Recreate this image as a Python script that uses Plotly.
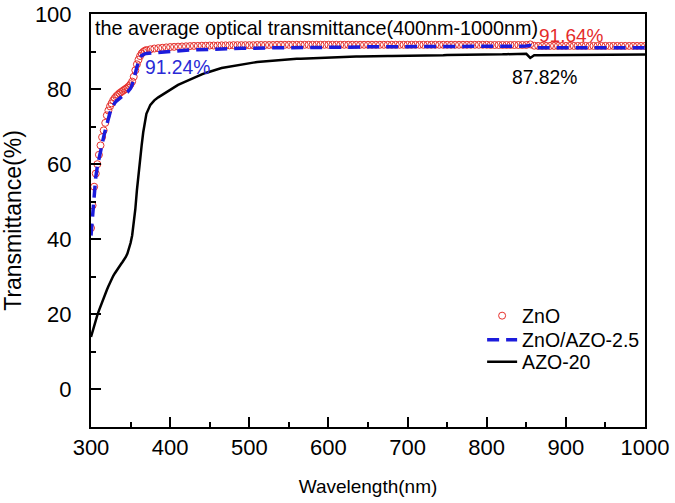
import plotly.graph_objects as go

# Sampling grid (nm)
wavelength = [
    300, 302, 304, 306, 308, 310, 312, 314, 316, 318,
    320, 322, 324, 326, 328, 330, 332, 334, 336, 338,
    340, 342, 344, 346, 348, 350, 352, 354, 356, 358,
    360, 362, 364, 366, 368, 370,
    375, 380, 385, 390, 395, 400, 405, 410, 415, 420,
    425, 430, 435, 440, 445, 450, 455, 460, 465, 470,
    475, 480, 485, 490, 495, 500, 505, 510, 515, 520,
    525, 530, 535, 540, 545, 550, 555, 560, 565, 570,
    575, 580, 585, 590, 595, 600, 605, 610, 615, 620,
    625, 630, 635, 640, 645, 650, 655, 660, 665, 670,
    675, 680, 685, 690, 695, 700, 705, 710, 715, 720,
    725, 730, 735, 740, 745, 750, 755, 760, 765, 770,
    775, 780, 785, 790, 795, 800, 805, 810, 815, 820,
    825, 830, 835, 840, 845, 850, 855, 860, 865, 870,
    875, 880, 885, 890, 895, 900, 905, 910, 915, 920,
    925, 930, 935, 940, 945, 950, 955, 960, 965, 970,
    975, 980, 985, 990, 995, 1000,
]

zno = [
    43.0, 49.0, 54.0, 57.5, 60.0, 62.5, 65.0, 67.2, 69.0, 71.0,
    73.0, 74.3, 75.4, 76.2, 77.0, 77.6, 78.1, 78.5, 78.9, 79.2,
    79.5, 79.8, 80.1, 80.4, 80.8, 81.3, 82.0, 83.3, 85.0, 86.6,
    87.8, 88.8, 89.5, 89.9, 90.2, 90.4,
    90.6, 90.8, 90.9, 91.0, 91.1, 91.2, 91.25, 91.3, 91.35, 91.4,
    91.45, 91.5, 91.5, 91.55, 91.55, 91.6, 91.6, 91.6, 91.65, 91.65,
    91.65, 91.7, 91.7, 91.7, 91.7, 91.7, 91.7, 91.75, 91.75, 91.75,
    91.75, 91.75, 91.8, 91.8, 91.8, 91.8, 91.8, 91.8, 91.8, 91.8,
    91.8, 91.8, 91.8, 91.8, 91.8, 91.8, 91.8, 91.8, 91.8, 91.8,
    91.8, 91.8, 91.8, 91.8, 91.8, 91.8, 91.8, 91.8, 91.8, 91.8,
    91.8, 91.8, 91.8, 91.8, 91.8, 91.8, 91.8, 91.8, 91.8, 91.8,
    91.8, 91.8, 91.8, 91.8, 91.8, 91.8, 91.8, 91.8, 91.8, 91.8,
    91.8, 91.8, 91.8, 91.8, 91.8, 91.8, 91.75, 91.75, 91.75, 91.75,
    91.75, 91.75, 91.75, 91.75, 91.75, 91.75, 91.9, 91.55, 91.5, 91.5,
    91.5, 91.5, 91.5, 91.5, 91.5, 91.5, 91.5, 91.5, 91.5, 91.5,
    91.5, 91.5, 91.5, 91.5, 91.5, 91.5, 91.5, 91.5, 91.5, 91.5,
    91.5, 91.5, 91.5, 91.5, 91.5, 91.5,
]

zno_azo = [
    41.0, 47.0, 52.5, 56.5, 59.3, 61.5, 63.5, 65.5, 67.3, 69.0,
    70.7, 72.3, 73.7, 74.8, 75.7, 76.3, 76.8, 77.2, 77.6, 78.0,
    78.3, 78.6, 78.9, 79.2, 79.6, 80.2, 81.2, 82.5, 84.2, 85.9,
    87.3, 88.3, 88.9, 89.2, 89.4, 89.5,
    89.6, 89.7, 89.8, 89.9, 89.95, 90.0, 90.1, 90.2, 90.3, 90.35,
    90.4, 90.45, 90.5, 90.55, 90.6, 90.65, 90.65, 90.7, 90.7, 90.75,
    90.75, 90.8, 90.8, 90.85, 90.85, 90.9, 90.9, 90.9, 90.95, 90.95,
    90.95, 91.0, 91.0, 91.0, 91.05, 91.05, 91.05, 91.05, 91.1, 91.1,
    91.1, 91.1, 91.1, 91.1, 91.15, 91.15, 91.15, 91.15, 91.15, 91.2,
    91.2, 91.2, 91.2, 91.2, 91.2, 91.25, 91.25, 91.25, 91.25, 91.25,
    91.3, 91.3, 91.3, 91.3, 91.3, 91.3, 91.3, 91.3, 91.3, 91.3,
    91.3, 91.3, 91.35, 91.35, 91.35, 91.35, 91.35, 91.35, 91.4, 91.4,
    91.4, 91.4, 91.4, 91.4, 91.4, 91.4, 91.4, 91.4, 91.4, 91.4,
    91.4, 91.4, 91.45, 91.45, 91.45, 91.45, 91.6, 91.05, 91.0, 91.0,
    91.0, 91.0, 91.0, 91.0, 91.0, 91.0, 91.0, 91.0, 91.0, 91.0,
    91.0, 91.0, 91.0, 91.0, 91.0, 91.0, 91.0, 91.0, 91.0, 91.0,
    91.0, 91.0, 91.0, 91.0, 91.0, 91.0,
]

azo20 = [
    14.0, 15.6, 17.1, 18.5, 19.8, 21.0, 22.2, 23.3, 24.4, 25.5,
    26.5, 27.5, 28.5, 29.4, 30.2, 30.9, 31.6, 32.2, 32.8, 33.4,
    34.0, 34.6, 35.3, 36.2, 37.4, 39.0, 41.0, 44.0, 48.0, 53.0,
    57.5, 61.5, 65.0, 68.5, 71.2, 73.4,
    75.8, 77.0, 77.8, 78.5, 79.2, 79.9, 80.5, 81.1, 81.6, 82.1,
    82.6, 83.1, 83.5, 83.9, 84.3, 84.7, 85.0, 85.3, 85.6, 85.8,
    86.0, 86.2, 86.4, 86.6, 86.8, 86.9, 87.05, 87.2, 87.3, 87.4,
    87.5, 87.6, 87.7, 87.8, 87.85, 87.9, 88.0, 88.05, 88.1, 88.15,
    88.2, 88.25, 88.3, 88.35, 88.4, 88.45, 88.5, 88.5, 88.55, 88.55,
    88.6, 88.6, 88.65, 88.65, 88.7, 88.7, 88.7, 88.75, 88.75, 88.75,
    88.8, 88.8, 88.8, 88.85, 88.85, 88.85, 88.9, 88.9, 88.9, 88.95,
    88.95, 88.95, 89.0, 89.0, 89.0, 89.05, 89.05, 89.05, 89.1, 89.1,
    89.1, 89.15, 89.15, 89.15, 89.2, 89.2, 89.2, 89.25, 89.25, 89.25,
    89.3, 89.3, 89.3, 89.35, 89.35, 89.4, 88.3, 89.0, 89.0, 89.0,
    89.0, 89.0, 89.0, 89.0, 89.0, 89.05, 89.05, 89.05, 89.05, 89.05,
    89.05, 89.1, 89.1, 89.1, 89.1, 89.1, 89.1, 89.1, 89.1, 89.15,
    89.15, 89.15, 89.15, 89.15, 89.2, 89.2,
]

series_names = ["ZnO", "ZnO/AZO-2.5", "AZO-20"]
x_tick_vals = [300, 400, 500, 600, 700, 800, 900, 1000]
y_tick_vals = [0, 20, 40, 60, 80, 100]

note_text = "the average optical transmittance(400nm-1000nm)"
avg_labels = ["91.64%", "91.24%", "87.82%"]

FONT = "Liberation Sans, Arial, sans-serif"
RED = "#e6302c"
BLUE = "#1c1cdc"

fig = go.Figure()
fig.add_trace(go.Scatter(
    x=wavelength, y=zno, name=series_names[0], mode="markers", legend="legend",
    marker=dict(symbol="circle-open", size=7, color=RED, line=dict(width=1, color=RED)),
))
fig.add_trace(go.Scatter(
    x=wavelength, y=zno_azo, name=series_names[1], mode="lines", legend="legend2",
    line=dict(color=BLUE, width=3.5, dash="12px,7px"),
))
fig.add_trace(go.Scatter(
    x=wavelength, y=azo20, name=series_names[2], mode="lines", legend="legend3",
    line=dict(color="black", width=2.5),
))

axis_common = dict(
    showline=True, mirror=True, linewidth=2, linecolor="black",
    ticks="inside", ticklen=10, tickwidth=2, tickcolor="black",
    showgrid=False, zeroline=False, automargin=False,
    tickfont=dict(family=FONT, size=22, color="black"),
)

fig.update_xaxes(
    range=[300, 1000], tickvals=x_tick_vals,
    minor=dict(ticks="inside", ticklen=5, tickwidth=2, tickcolor="black", dtick=50, tick0=300, showgrid=False),
    title=dict(text="Wavelength(nm)", font=dict(family=FONT, size=19, color="black"), standoff=20),
    ticklabelstandoff=0,
    **axis_common,
)
fig.update_yaxes(
    range=[-10, 100], tickvals=y_tick_vals,
    minor=dict(ticks="inside", ticklen=5, tickwidth=2, tickcolor="black", dtick=10, tick0=0, showgrid=False),
    title=dict(text="Transmittance(%)", font=dict(family=FONT, size=23, color="black"), standoff=12),
    ticklabelstandoff=13,
    **axis_common,
)

fig.add_annotation(x=302.5, y=96.3, text=note_text, showarrow=False, xanchor="left", yanchor="middle",
                   font=dict(family=FONT, size=19.8, color="black"))
fig.add_annotation(x=863, y=94.4, text=avg_labels[0], showarrow=False, xanchor="left", yanchor="middle",
                   font=dict(family=FONT, size=19, color="#e52b2b"))
fig.add_annotation(x=366, y=85.7, text=avg_labels[1], showarrow=False, xanchor="left", yanchor="middle",
                   font=dict(family=FONT, size=19.3, color="#2a2ad6"))
fig.add_annotation(x=830, y=83.2, text=avg_labels[2], showarrow=False, xanchor="left", yanchor="middle",
                   font=dict(family=FONT, size=19.3, color="black"))

legend_common = dict(
    x=0.706, xanchor="left", yanchor="middle",
    bgcolor="rgba(0,0,0,0)", font=dict(family=FONT, size=19.5, color="black"),
)

fig.update_layout(
    width=675, height=503,
    margin=dict(l=91, r=30, t=14, b=76),
    paper_bgcolor="white", plot_bgcolor="white",
    font=dict(family=FONT, color="black"),
    legend=dict(y=0.2688, **legend_common),
    legend2=dict(y=0.2107, **legend_common),
    legend3=dict(y=0.1574, **legend_common),
    showlegend=True,
)

fig.write_html("out.html", config={"displayModeBar": False},
               post_script="document.body.style.margin='0';")
